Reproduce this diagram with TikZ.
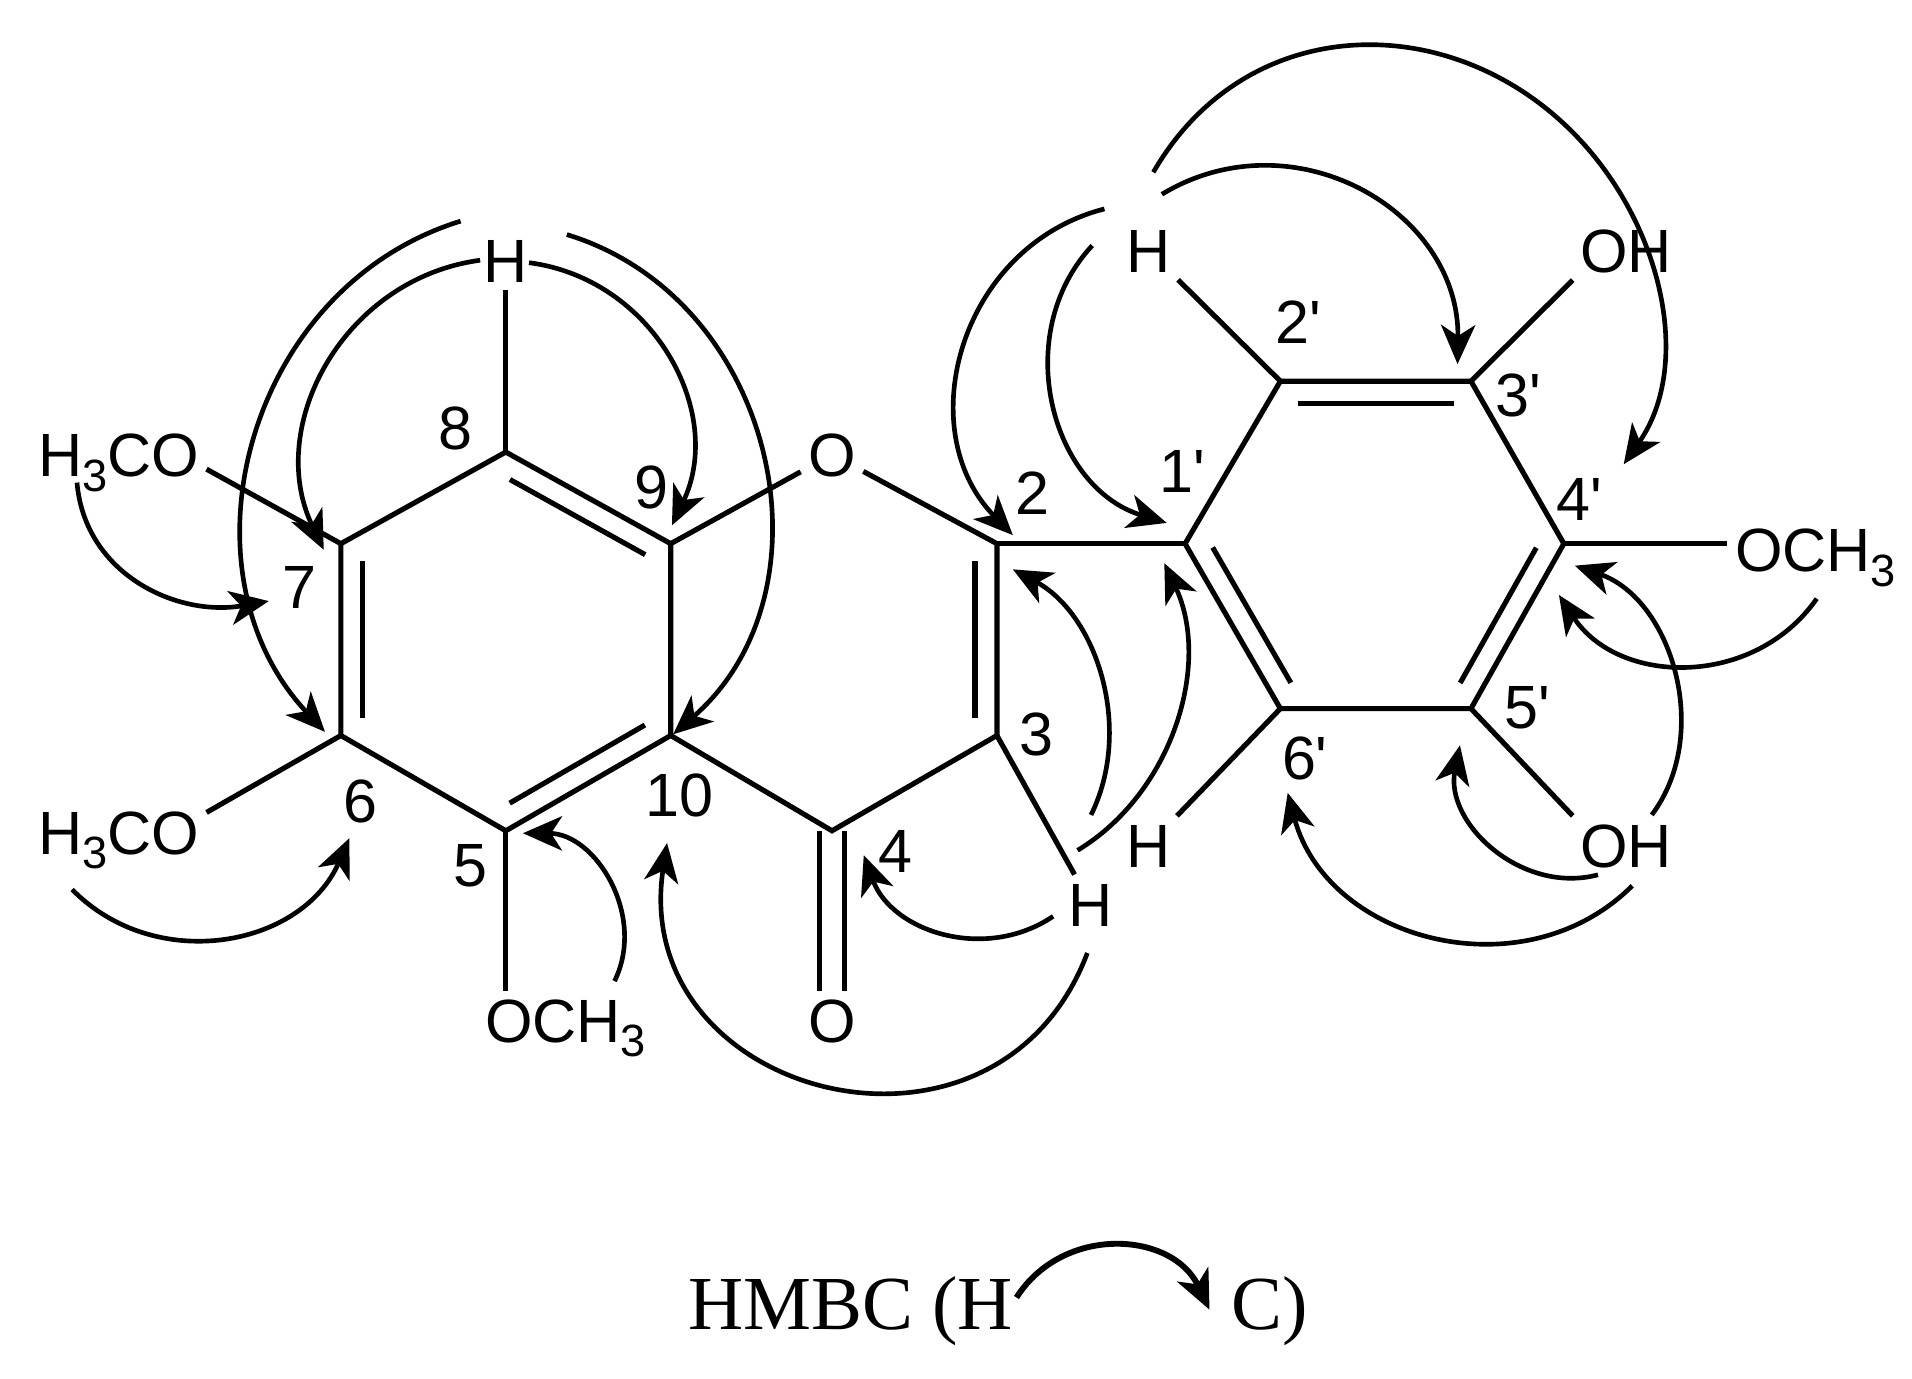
\documentclass[tikz,border=0pt]{standalone}
\usepackage{fontspec}
\setmainfont{Liberation Sans}
\newfontfamily\legendfont{Liberation Serif}
\newfontfamily\primefont{Liberation Sans}
\usetikzlibrary{arrows.meta,calc}
\newcommand{\subthree}{{\fontsize{37}{37}\selectfont\raisebox{-12pt}{3}}}
\newcommand{\primesign}{{\primefont\char"27\relax}}
\newcommand{\innerbond}[2]{\draw[bond] ($(#1)!0.09!(#2)!18pt!-90:(#2)$) -- ($(#2)!0.09!(#1)!18pt!90:(#1)$);}
\tikzset{
    %Define standard arrow tip
    >={Stealth[length=32pt,width=28pt,inset=9pt]},
    %Define style for labels
    atom/.style={
           inner sep=6pt,
           text height=36pt,
           text depth=0pt,
           font=\fontsize{50}{55}\selectfont},
    num/.style={
           inner sep=0pt,
           text height=36pt,
           text depth=0pt,
           font=\fontsize{50}{55}\selectfont},
    legend/.style={
           inner sep=0pt,
           text height=40pt,
           text depth=0pt,
           font=\legendfont\fontsize{62.5}{68}\selectfont},
    % Define line styles
    bond/.style={
           line width=4.2pt},
    corr/.style={
           ->,
           line width=3.8pt}
}

\begin{document}
\begin{tikzpicture}[x=1pt, y=1pt]
    \useasboundingbox (0,0) rectangle (1565,-1128);

    % RING ATOMS
    \coordinate (c8) at (414,-370);
    \coordinate (c9) at (549,-445);
    \coordinate (c10) at (549,-602);
    \coordinate (c5) at (414,-680);
    \coordinate (c6) at (279,-602);
    \coordinate (c7) at (279,-445);
    \coordinate (c2) at (816,-445);
    \coordinate (c3) at (816,-602);
    \coordinate (c4) at (681,-680);
    \coordinate (c1p) at (970,-445);
    \coordinate (c2p) at (1048,-312);
    \coordinate (c3p) at (1204,-312);
    \coordinate (c4p) at (1280,-445);
    \coordinate (c5p) at (1204,-580);
    \coordinate (c6p) at (1048,-580);

    % ATOM LABELS
    \node[atom] at (414,-213) (h8) {H};
    \node[atom] at (681,-372) (oring) {O};
    \node[atom] at (681,-835) (oketo) {O};
    \node[atom] at (940,-205) (h2p) {H};
    \node[atom] at (940,-692) (h6p) {H};
    \node[atom] at (893,-740) (h3) {H};
    \node[atom] at (1331,-205) (oh3p) {OH};
    \node[atom] at (1331,-692) (oh5p) {OH};
    \node[atom] at (97,-372) (meo7) {H\subthree CO};
    \node[atom] at (97,-681) (meo6) {H\subthree CO};
    \node[atom] at (463,-835) (meo5) {OCH\subthree};
    \node[atom] at (1486,-450) (meo4p) {OCH\subthree};

    % LOCANTS
    \node[num] at (373,-350) (n8) {8};
    \node[num] at (533,-398) (n9) {9};
    \node[num] at (245,-480) (n7) {7};
    \node[num] at (295,-655) (n6) {6};
    \node[num] at (385,-708) (n5) {5};
    \node[num] at (556,-650) (n10) {10};
    \node[num] at (733,-696) (n4) {4};
    \node[num] at (848,-600) (n3) {3};
    \node[num] at (845,-403) (n2) {2};
    \node[num] at (968,-385) (n1p) {1\primesign};
    \node[num] at (1063,-263) (n2p) {2\primesign};
    \node[num] at (1243,-323) (n3p) {3\primesign};
    \node[num] at (1293,-408) (n4p) {4\primesign};
    \node[num] at (1250,-578) (n5p) {5\primesign};
    \node[num] at (1068,-620) (n6p) {6\primesign};

    % BONDS
    \draw[bond] (c8) -- (c9) -- (c10) -- (c5) -- (c6) -- (c7) -- cycle;
    \draw[bond] (c9) -- (oring) -- (c2) -- (c3) -- (c4) -- (c10);
    \draw[bond] (c2) -- (c1p);
    \draw[bond] (c1p) -- (c2p) -- (c3p) -- (c4p) -- (c5p) -- (c6p) -- cycle;
    \innerbond{c8}{c9}
    \innerbond{c10}{c5}
    \innerbond{c6}{c7}
    \innerbond{c2}{c3}
    \innerbond{c2p}{c3p}
    \innerbond{c4p}{c5p}
    \innerbond{c6p}{c1p}
    \draw[bond] ([xshift=-10pt]c4) -- ([xshift=-10pt]c4 |- oketo.north);
    \draw[bond] ([xshift=10pt]c4) -- ([xshift=10pt]c4 |- oketo.north);
    \draw[bond] (c8) -- (h8);
    \draw[bond] (c2p) -- (h2p);
    \draw[bond] (c6p) -- (h6p);
    \draw[bond] (c3) -- (h3);
    \draw[bond] (c3p) -- (oh3p.south west);
    \draw[bond] (c5p) -- (oh5p.north west);
    \draw[bond] (c7) -- ([yshift=-12pt]meo7.east);
    \draw[bond] (c6) -- ([yshift=16pt]meo6.east);
    \draw[bond] (c5) -- (c5 |- meo5.north);
    \draw[bond] (c4p) -- (c4p -| meo4p.west);

    % ARROW ENDS
    \coordinate (a1s) at (377,-181);
    \coordinate (a1t) at (266,-599);
    \coordinate (a2s) at (393,-213);
    \coordinate (a2t) at (265,-450);
    \coordinate (a3s) at (433,-215);
    \coordinate (a3t) at (550,-430);
    \coordinate (a4s) at (464,-192);
    \coordinate (a4t) at (551,-601);
    \coordinate (a5s) at (63,-395);
    \coordinate (a5t) at (220,-492);
    \coordinate (a6s) at (59,-728);
    \coordinate (a6t) at (286,-686);
    \coordinate (a7s) at (503,-803);
    \coordinate (a7t) at (428,-682);
    \coordinate (a8s) at (890,-780);
    \coordinate (a8t) at (546,-690);
    \coordinate (a9s) at (862,-750);
    \coordinate (a9t) at (707,-700);
    \coordinate (a10s) at (893,-667);
    \coordinate (a10t) at (829,-466);
    \coordinate (a11s) at (882,-696);
    \coordinate (a11t) at (953,-461);
    \coordinate (a12s) at (904,-171);
    \coordinate (a12t) at (829,-438);
    \coordinate (a13s) at (894,-201);
    \coordinate (a13t) at (955,-428);
    \coordinate (a14s) at (951,-159);
    \coordinate (a14t) at (1193,-298);
    \coordinate (a15s) at (944,-141);
    \coordinate (a15m) at (1319,-147);
    \coordinate (a15t) at (1329,-380);
    \coordinate (a16s) at (1352,-667);
    \coordinate (a16t) at (1289,-463);
    \coordinate (a17s) at (1487,-490);
    \coordinate (a17t) at (1276,-487);
    \coordinate (a18s) at (1308,-716);
    \coordinate (a18t) at (1195,-610);
    \coordinate (a19s) at (1336,-725);
    \coordinate (a19t) at (1054,-649);

    % HMBC ARROWS
    \draw[corr] (a1s) to[bend right=58, looseness=1.08] (a1t);
    \draw[corr] (a2s) to[bend right=54, looseness=1.07] (a2t);
    \draw[corr] (a3s) to[bend left=54, looseness=1.07] (a3t);
    \draw[corr] (a4s) to[bend left=61, looseness=1.1] (a4t);
    \draw[corr] (a5s) to[out=-85, in=190, looseness=1.05] (a5t);
    \draw[corr] (a6s) to[bend right=56, looseness=1.08] (a6t);
    \draw[corr] (a7s) to[bend right=58, looseness=1.07] (a7t);
    \draw[corr] (a8s) to[bend left=84, looseness=1.52] (a8t);
    \draw[corr] (a9s) to[bend left=52, looseness=1.05] (a9t);
    \draw[corr] (a10s) to[bend right=44, looseness=0.95] (a10t);
    \draw[corr] (a11s) to[bend right=42, looseness=0.95] (a11t);
    \draw[corr] (a12s) to[bend right=60, looseness=1.12] (a12t);
    \draw[corr] (a13s) to[bend right=58, looseness=1.08] (a13t);
    \draw[corr] (a14s) to[bend left=61, looseness=1.15] (a14t);
    \draw[corr] (a15s) to[out=60, in=124, looseness=1.15] (a15m) to[out=-56, in=55, looseness=0.95] (a15t);
    \draw[corr] (a16s) to[bend right=54, looseness=1.0] (a16t);
    \draw[corr] (a17s) to[bend left=56, looseness=1.08] (a17t);
    \draw[corr] (a18s) to[bend left=58, looseness=1.07] (a18t);
    \draw[corr] (a19s) to[bend left=60, looseness=1.1] (a19t);

    % LEGEND
    \node[legend, anchor=west] at (563,-1068) (hmbc) {HMBC (H};
    \node[legend, anchor=west] at (1008,-1068) (carbon) {C)};
    \coordinate (legs) at (832,-1062);
    \coordinate (legt) at (990,-1072);
    \draw[corr, line width=4.8pt] (legs) to[bend left=61, looseness=1.15] (legt);
\end{tikzpicture}
\end{document}
